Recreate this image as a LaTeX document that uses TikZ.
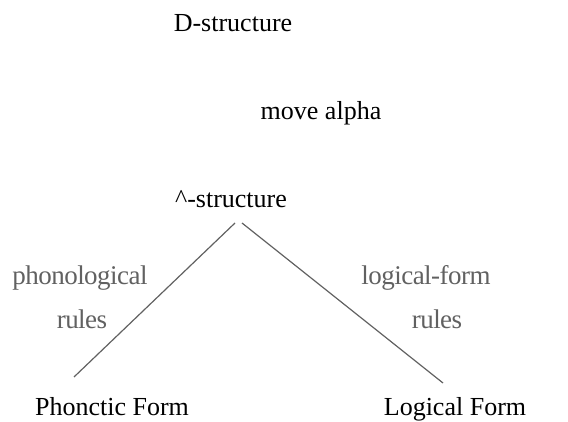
\documentclass[tikz,border=0pt]{standalone}
\usepackage{fontspec}
\setmainfont{Liberation Serif}
\begin{document}
\begin{tikzpicture}[x=1pt,y=1pt,
  lbl/.style={anchor=base,inner sep=0pt,font=\fontsize{26}{30}\selectfont},
  rul/.style={anchor=base,inner sep=0pt,text=black!62,font=\fontsize{27}{31}\selectfont\addfontfeatures{LetterSpace=-2}},
  edge/.style={draw=black!62,line width=1.2pt}]
\useasboundingbox (0,0) rectangle (568,-422);
\node[lbl] (d) at (233,-32) {D-structure};
\node[lbl] (m) at (321,-120) {move alpha};
\node[lbl] (s) at (231,-208) {\^{}-structure};
\node[lbl] (pf) at (112,-415) {Phonctic Form};
\node[lbl] (lf) at (455,-415) {Logical Form};
\node[rul] (pr1) at (80,-285) {phonological};
\node[rul] (pr2) at (82,-328) {rules};
\node[rul] (lr1) at (426,-285) {logical-form};
\node[rul] (lr2) at (437,-328) {rules};
\coordinate (sl) at (235,-223);
\coordinate (sr) at (242,-223);
\coordinate (pe) at (74,-377);
\coordinate (le) at (443,-383);
\draw[edge] (sl) -- (pe);
\draw[edge] (sr) -- (le);
\end{tikzpicture}
\end{document}
